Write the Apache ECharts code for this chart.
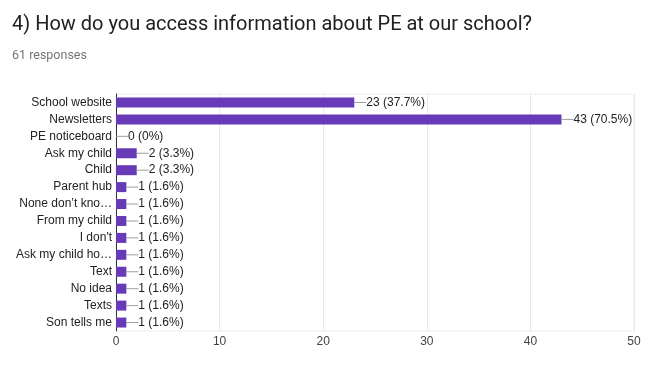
<!DOCTYPE html>
<html><head><meta charset="utf-8">
<script src="https://cdn.jsdelivr.net/npm/echarts@6/dist/echarts.min.js"></script>
<style>html,body{margin:0;padding:0;background:#fff}#c{width:671px;height:366px}</style>
</head><body><div id="c"></div>
<script>
const categories = ['School website','Newsletters','PE noticeboard','Ask my child','Child','Parent hub','None don\u2019t kno\u2026','From my child','I don\'t','Ask my child ho\u2026','Text','No idea','Texts','Son tells me'];
const values = [23,43,0,2,2,1,1,1,1,1,1,1,1,1];
const percents = ['37.7%','70.5%','0%','3.3%','3.3%','1.6%','1.6%','1.6%','1.6%','1.6%','1.6%','1.6%','1.6%','1.6%'];
const xTicks = [0,10,20,30,40,50];

const chart = echarts.init(document.getElementById('c'));
chart.setOption({
  animation:false,
  title:[{text:'4) How do you access information about PE at our school?',left:7,top:10,
    textStyle:{fontFamily:'Roboto',fontSize:20,fontWeight:'normal',color:'#212121'}},
    {text:'61 responses',left:7,top:44,textStyle:{fontFamily:'Roboto',fontSize:12.5,fontWeight:'normal',color:'#757575'}}],
  grid:{left:116,right:37,top:94,bottom:35,containLabel:false,show:true,borderColor:'#eeeeee',borderWidth:1},
  xAxis:{type:'value',min:xTicks[0],max:xTicks[xTicks.length-1],interval:10,
    axisLine:{show:false},axisTick:{show:false},
    splitLine:{lineStyle:{color:'#e8e8e8'}},
    axisLabel:{fontFamily:'Arial, Liberation Sans',fontSize:12,color:'#444',margin:5}},
  yAxis:{type:'category',data:categories,inverse:true,
    axisLine:{show:true,lineStyle:{color:'#333'}},axisTick:{show:false},
    axisLabel:{fontFamily:'Arial, Liberation Sans',fontSize:12,color:'#222',margin:4}},
  series:[{type:'bar',data:values,barWidth:10,itemStyle:{color:'#673ab7'},
    label:{show:true,position:'right',distance:0,
      formatter:p=>'{l|}{t|'+values[p.dataIndex]+' ('+percents[p.dataIndex]+')}',
      rich:{l:{width:12,height:1,backgroundColor:'#9e9e9e'},
        t:{fontFamily:'Arial, Liberation Sans',fontSize:12,color:'#222',padding:[0,0,0,0]}}}}]
});
</script></body></html>
